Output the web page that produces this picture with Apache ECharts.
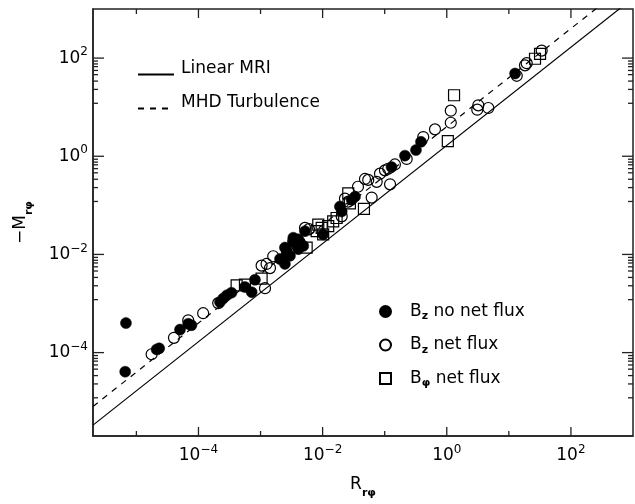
<!DOCTYPE html>
<html><head><meta charset="utf-8">
<script src="https://cdn.jsdelivr.net/npm/echarts@6/dist/echarts.min.js"></script>
<style>html,body{margin:0;padding:0;background:#fff}#c{width:635px;height:504px}</style>
</head><body><div id="c"></div>
<script>
// ---- data ----
const filledR = [6.79e-6, 6.6e-6, 2.12e-5, 2.33e-5, 5.04e-5, 6.84e-5, 7.7e-5, 2.22e-4, 2.51e-4, 2.88e-4, 3.4e-4, 5.61e-4, 7.2e-4, 8.13e-4, 2.06e-3, 2.47e-3, 2.64e-3, 2.98e-3, 3.37e-3, 4.06e-3, 4.06e-3, 2.47e-3, 2.64e-3, 3.37e-3, 4.32e-3, 4.88e-3, 5.2e-3, 1.02e-2, 1.9e-2, 2.03e-2, 2.94e-2, 3.32e-2, 0.129, 0.212, 0.319, 0.384, 12.6];
const filledM = [4.0e-4, 4.08e-5, 1.16e-4, 1.22e-4, 2.94e-4, 3.87e-4, 3.61e-4, 1.07e-3, 1.27e-3, 1.48e-3, 1.66e-3, 2.17e-3, 1.70e-3, 3.05e-3, 8.07e-3, 6.4e-3, 1.18e-2, 9.4e-3, 1.74e-2, 2.03e-2, 1.28e-2, 1.38e-2, 1.02e-2, 2.19e-2, 1.74e-2, 1.49e-2, 2.98e-2, 2.56e-2, 9.46e-2, 7.5e-2, 0.129, 0.150, 0.601, 1.03, 1.34, 1.97, 48.5];
const openR = [1.76e-5, 4.03e-5, 6.84e-5, 1.19e-4, 2.08e-4, 1.18e-3, 1.04e-3, 1.25e-3, 1.42e-3, 1.6e-3, 3.37e-3, 5.2e-3, 6.03e-3, 2.03e-2, 2.29e-2, 2.59e-2, 4.81e-2, 5.43e-2, 6.17e-2, 7.43e-2, 8.4e-2, 0.101, 0.114, 0.122, 0.146, 0.226, 0.418, 0.646, 1.16, 1.16, 3.10, 3.22, 4.67, 13.4, 18.2, 19.4, 33.8, 3.71e-2];
const openM = [9.25e-5, 2.0e-4, 4.55e-4, 6.35e-4, 1.02e-3, 2.05e-3, 5.92e-3, 6.4e-3, 5.27e-3, 9.18e-3, 1.88e-2, 3.48e-2, 3.27e-2, 5.97e-2, 0.137, 0.119, 0.345, 0.33, 0.144, 0.301, 0.442, 0.516, 0.556, 0.268, 0.681, 0.883, 2.46, 3.53, 4.81, 8.49, 8.89, 10.9, 9.62, 43.6, 71.1, 78.8, 142, 0.239];
const squareR = [4.12e-4, 5.61e-4, 1.04e-3, 5.53e-3, 8.02e-3, 8.51e-3, 9.66e-3, 1.02e-2, 1.23e-2, 1.48e-2, 1.68e-2, 2.59e-2, 2.75e-2, 4.63e-2, 1.04, 1.31, 26.4, 31.8];
const squareM = [2.35e-3, 2.43e-3, 3.2e-3, 1.38e-2, 2.98e-2, 4.06e-2, 3.48e-2, 2.56e-2, 3.76e-2, 4.73e-2, 5.52e-2, 0.175, 0.110, 8.51e-2, 2.03, 17.5, 97, 122];
// model lines: Linear MRI (M = 5/3 R), MHD turbulence (M = 4 R)
const lineR = [2e-6, 1e3];
const linearMRI = [3.333e-6, 1.667e3];
const mhdTurb = [8e-6, 4e3];
// axes
const axisMin = 2e-6, axisMax = 1e3;
const xLabelExp = [-4, -2, 0, 2];
const xMinorExp = [-5, -3, -1, 1];
const yLabelExp = [-4, -2, 0, 2];
const yMinorFactors = [0.87, 0.76, 0.67, 0.56, 0.46, 0.34, 0.23, 0.12];

const FONT = 'DejaVu Sans';
const pow = e => Math.pow(10, e);
const xMajorVals = xLabelExp.map(pow);
const xMinorVals = xMinorExp.map(pow);
const yMajorVals = yLabelExp.map(pow);
const yMinorVals = [];
yLabelExp.forEach(e => yMinorFactors.forEach(f => yMinorVals.push(f * pow(e))));

const pairs = (a, b) => a.map((v, i) => [v, b[i]]);
const expLabel = v => {
  const e = Math.round(Math.log10(v));
  return '{n|10}{s|' + (e < 0 ? '\u2212' + (-e) : e) + '}';
};
const labelRich = {
  n: {fontSize: 17, fontFamily: FONT, color: '#000', lineHeight: 24},
  s: {fontSize: 12, fontFamily: FONT, color: '#000', lineHeight: 12, verticalAlign: 'top'}
};
const AX = '#222';
const subRich = {m: {fontSize: 17, fontFamily: FONT, color: '#000'}, sb: {fontSize: 11, fontWeight: 'bold', fontFamily: FONT, color: '#000', verticalAlign: 'bottom', lineHeight: 12, padding: [0,0,-6,0]}};
function ax(pos, vals, margin) {
  return {
    type: 'log', logBase: 10, min: axisMin, max: axisMax, position: pos,
    axisLine: {show: true, lineStyle: {color: AX, width: 1.5}},
    axisTick: {show: false}, splitLine: {show: false}, minorTick: {show: false},
    axisLabel: {show: true, customValues: vals, formatter: expLabel, rich: labelRich, margin: margin}
  };
}
const xAxis = ax('bottom', xMajorVals, 8);
Object.assign(xAxis, {name: '{m|R}{sb|r\u03c6}', nameLocation: 'middle', nameGap: 40, nameTextStyle: {rich: subRich}});
const yAxis = ax('left', yMajorVals, 5);
Object.assign(yAxis, {name: '{m|\u2212M}{sb|r\u03c6}', nameLocation: 'middle', nameGap: 64, nameRotate: 90, nameTextStyle: {rich: subRich}});

const legendRich = {
  t: {fontSize: 17, fontFamily: FONT, color: '#000'},
  sb: {fontSize: 11, fontWeight: 'bold', fontFamily: FONT, color: '#000', padding: [10,0,0,0]}
};
const legendText = {
  'Bz no net flux': '{t|B}{sb|z}{t| no net flux}',
  'Bz net flux': '{t|B}{sb|z}{t| net flux}',
  'B\u03c6 net flux': '{t|B}{sb|\u03c6}{t| net flux}'
};
const hollow = {color: 'rgba(0,0,0,0)', borderColor: '#000', borderWidth: 1.2, opacity: 1};

// tick marks as thin rect symbols placed by the axes' own scales
function tickSeries(data, size, offset) {
  return {
    type: 'scatter', silent: true, clip: false, z: 6, data: data,
    symbol: 'rect', symbolSize: size, symbolOffset: offset,
    itemStyle: {color: AX, opacity: 1, borderWidth: 0},
    emphasis: {disabled: true}, tooltip: {show: false}
  };
}
const tickSeriesList = [
  tickSeries(xMajorVals.map(v => [v, axisMin]), [1.3, 9], [0, -4.5]),
  tickSeries(xMajorVals.map(v => [v, axisMax]), [1.3, 9], [0, 4.5]),
  tickSeries(xMinorVals.map(v => [v, axisMin]), [1.3, 5], [0, -2.5]),
  tickSeries(xMinorVals.map(v => [v, axisMax]), [1.3, 5], [0, 2.5]),
  tickSeries(yMajorVals.map(v => [axisMin, v]), [11, 1.3], [5.5, 0]),
  tickSeries(yMajorVals.map(v => [axisMax, v]), [11, 1.3], [-5.5, 0]),
  tickSeries(yMinorVals.map(v => [axisMin, v]), [5, 1.3], [2.5, 0]),
  tickSeries(yMinorVals.map(v => [axisMax, v]), [5, 1.3], [-2.5, 0])
];

const option = {
  animation: false,
  grid: {show: true, borderColor: AX, borderWidth: 1.5, backgroundColor: 'rgba(0,0,0,0)', left: 93, top: 9, right: 2, bottom: 61},
  xAxis: xAxis,
  yAxis: yAxis,
  legend: [
    {
      data: ['Linear MRI', 'MHD Turbulence'], orient: 'vertical', left: 137, top: 60,
      itemWidth: 36, itemHeight: 14, itemGap: 5, padding: 0, selectedMode: false,
      itemStyle: {opacity: 0, color: 'rgba(0,0,0,0)', borderWidth: 0},
      formatter: n => '{t|' + n + '}',
      textStyle: {rich: {t: {fontSize: 17, fontFamily: FONT, color: '#000', lineHeight: 20, padding: [0, 0, 12, 2]}}}
    },
    {
      data: ['Bz no net flux', 'Bz net flux', 'B\u03c6 net flux'], orient: 'vertical', left: 379, top: 303,
      itemWidth: 11, itemHeight: 11, itemGap: 14.5, padding: 0, selectedMode: false,
      formatter: n => legendText[n],
      textStyle: {rich: legendRich, padding: [0, 0, 0, 14]}
    }
  ],
  series: tickSeriesList.concat([
    {name: 'Linear MRI', type: 'line', data: pairs(lineR, linearMRI), symbol: 'none', clip: true,
     lineStyle: {color: '#000', width: 1.2, type: 'solid'}, itemStyle: {color: '#000'}},
    {name: 'MHD Turbulence', type: 'line', data: pairs(lineR, mhdTurb), symbol: 'none', clip: true,
     lineStyle: {color: '#000', width: 1.2, type: [6, 6]}, itemStyle: {color: '#000'}},
    {name: 'Bz no net flux', type: 'scatter', data: pairs(filledR, filledM), symbol: 'circle', symbolSize: 11,
     itemStyle: {color: '#000', borderColor: '#000', borderWidth: 0.5, opacity: 1}},
    {name: 'Bz net flux', type: 'scatter', data: pairs(openR, openM), symbol: 'circle', symbolSize: 11,
     itemStyle: hollow},
    {name: 'B\u03c6 net flux', type: 'scatter', data: pairs(squareR, squareM), symbol: 'rect', symbolSize: 11,
     itemStyle: hollow}
  ])
};
const chart = echarts.init(document.getElementById('c'), null, {renderer: 'canvas'});
chart.setOption(option);
</script></body></html>
